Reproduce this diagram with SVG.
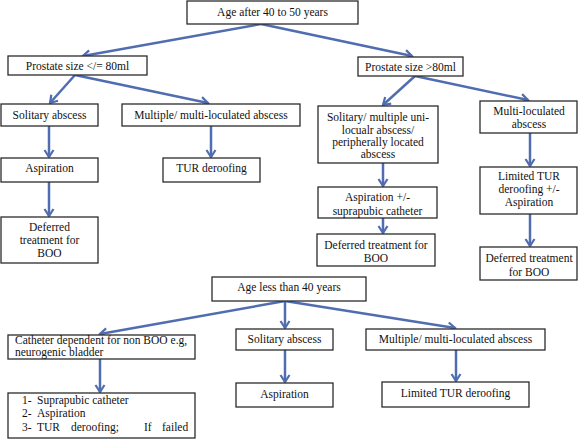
<svg xmlns="http://www.w3.org/2000/svg" width="578" height="440" viewBox="0 0 578 440">
<defs>
<style>
.box{fill:#fff;stroke:#2b2b2b;stroke-width:1.3}
text{font-family:'Liberation Serif','DejaVu Serif',serif;font-size:11.5px;fill:#111}
.c{text-anchor:middle}
.ln{stroke:#4F6DB0;stroke-width:2.5;fill:none;marker-end:url(#ah)}
</style>
<marker id="ah" viewBox="0 0 12 12" refX="10" refY="6" markerWidth="12" markerHeight="12" orient="auto" markerUnits="userSpaceOnUse">
<path d="M3,1.5 L10,6 L3,10.5" fill="none" stroke="#4F6DB0" stroke-width="2.2"/>
</marker>
</defs>
<rect width="578" height="440" fill="#fff"/>
<g id="connectors">
<line class="ln" x1="261" y1="24" x2="83" y2="56"/>
<line class="ln" x1="261" y1="24" x2="412" y2="56"/>
<line class="ln" x1="75" y1="75" x2="50" y2="103"/>
<line class="ln" x1="75" y1="75" x2="208" y2="103"/>
<line class="ln" x1="49" y1="126" x2="49" y2="157"/>
<line class="ln" x1="49" y1="182" x2="49" y2="216"/>
<line class="ln" x1="211" y1="126" x2="211" y2="157"/>
<line class="ln" x1="415" y1="76" x2="383" y2="105"/>
<line class="ln" x1="415" y1="76" x2="528" y2="100"/>
<line class="ln" x1="383" y1="163" x2="383" y2="186"/>
<line class="ln" x1="383" y1="218" x2="383" y2="233"/>
<line class="ln" x1="530" y1="133" x2="530" y2="166"/>
<line class="ln" x1="530" y1="214" x2="530" y2="246"/>
<line class="ln" x1="285" y1="301" x2="100" y2="334"/>
<line class="ln" x1="285" y1="301" x2="285" y2="328"/>
<line class="ln" x1="285" y1="301" x2="455" y2="328"/>
<line class="ln" x1="100" y1="359" x2="100" y2="392"/>
<line class="ln" x1="285" y1="350" x2="285" y2="382"/>
<line class="ln" x1="456" y1="350" x2="456" y2="381"/>
</g>
<g id="n_age_after"><rect class="box" x="187" y="1" width="171" height="23"/><text class="c" x="272.5" y="16">Age after 40 to 50 years</text></g>
<g id="n_ps_le80"><rect class="box" x="8" y="56" width="139" height="19"/><text class="c" x="77.5" y="70">Prostate size &lt;/= 80ml</text></g>
<g id="n_ps_gt80"><rect class="box" x="358" y="57" width="105" height="19"/><text class="c" x="410.5" y="71">Prostate size &gt;80ml</text></g>
<g id="n_sol1"><rect class="box" x="1" y="104" width="97" height="22"/><text class="c" x="49.5" y="119">Solitary abscess</text></g>
<g id="n_mult1"><rect class="box" x="122" y="104" width="178" height="22"/><text class="c" x="211" y="119">Multiple/ multi-loculated abscess</text></g>
<g id="n_solmult"><rect class="box" x="318" y="106" width="120" height="57"/><text class="c" x="378" y="121">Solitary/ multiple uni-</text><text class="c" x="378" y="134">locualr abscess/</text><text class="c" x="378" y="146">peripherally located</text><text class="c" x="378" y="158">abscess</text></g>
<g id="n_multiloc"><rect class="box" x="480" y="101" width="97" height="32"/><text class="c" x="529" y="115">Multi-loculated</text><text class="c" x="529" y="128">abscess</text></g>
<g id="n_asp1"><rect class="box" x="1" y="158" width="97" height="24"/><text class="c" x="49.5" y="172">Aspiration</text></g>
<g id="n_tur1"><rect class="box" x="163" y="158" width="97" height="24"/><text class="c" x="211.5" y="172">TUR deroofing</text></g>
<g id="n_aspsp"><rect class="box" x="318" y="187" width="119" height="31"/><text class="c" x="377.5" y="201">Aspiration +/-</text><text class="c" x="377.5" y="215">suprapubic catheter</text></g>
<g id="n_ltur1"><rect class="box" x="480" y="167" width="97" height="47"/><text class="c" x="529" y="180">Limited TUR</text><text class="c" x="529" y="193">deroofing +/-</text><text class="c" x="529" y="206">Aspiration</text></g>
<g id="n_def1"><rect class="box" x="1" y="217" width="97" height="46"/><text class="c" x="49.5" y="231">Deferred</text><text class="c" x="49.5" y="244">treatment for</text><text class="c" x="49.5" y="257">BOO</text></g>
<g id="n_def2"><rect class="box" x="317" y="234" width="118" height="32"/><text class="c" x="376" y="249">Deferred treatment for</text><text class="c" x="376" y="262">BOO</text></g>
<g id="n_def3"><rect class="box" x="480" y="247" width="97" height="33"/><text class="c" x="529" y="262">Deferred treatment</text><text class="c" x="529" y="276">for BOO</text></g>
<g id="n_age_less"><rect class="box" x="212" y="277" width="154" height="24"/><text class="c" x="289" y="291">Age less than 40 years</text></g>
<g id="n_cath"><rect class="box" x="8" y="335" width="187" height="24"/><text x="15" y="344">Catheter dependent for non BOO e.g,</text><text x="15" y="356">neurogenic bladder</text></g>
<g id="n_sol2"><rect class="box" x="236" y="329" width="97" height="21"/><text class="c" x="284.5" y="343">Solitary abscess</text></g>
<g id="n_mult2"><rect class="box" x="366" y="329" width="179" height="21"/><text class="c" x="455.5" y="343">Multiple/ multi-loculated abscess</text></g>
<g id="n_asp2"><rect class="box" x="236" y="383" width="97" height="24"/><text class="c" x="284.5" y="398">Aspiration</text></g>
<g id="n_ltur2"><rect class="box" x="382" y="382" width="147" height="25"/><text class="c" x="455.5" y="397">Limited TUR deroofing</text></g>
<g id="n_list"><rect class="box" x="8" y="393" width="187" height="45"/>
<text x="22" y="404">1-<tspan x="37">Suprapubic catheter</tspan></text>
<text x="22" y="417">2-<tspan x="37">Aspiration</tspan></text>
<text x="22" y="431">3-<tspan x="37">TUR</tspan><tspan x="71">deroofing;</tspan><tspan x="144">If</tspan><tspan x="162">failed</tspan></text>
</g>
</svg>
